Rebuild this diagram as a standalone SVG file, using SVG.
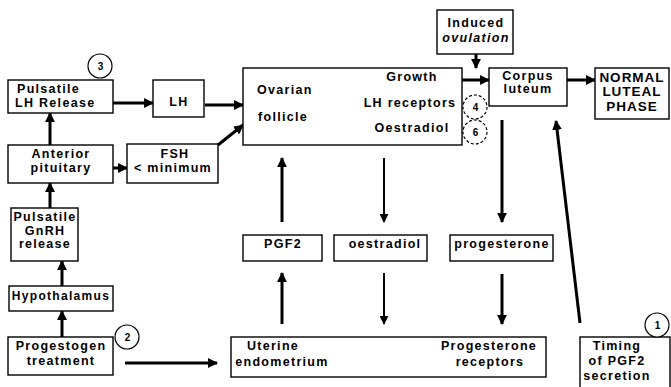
<svg xmlns="http://www.w3.org/2000/svg" width="671" height="387" viewBox="0 0 671 387">
<style>
.box{fill:#fff;stroke:#000;stroke-width:1.4}
.t{font-family:"Liberation Sans",Arial,sans-serif;font-weight:bold;font-size:12.5px;letter-spacing:1.3px;fill:#000}
.c{text-anchor:middle}
.big{font-size:13.5px;letter-spacing:1px}
.num{font-size:10px;letter-spacing:0}
.ln{stroke:#000;stroke-width:3;fill:none}
.ln2{stroke:#000;stroke-width:2;fill:none}
.circ{fill:#fff;stroke:#000;stroke-width:1.2}
.dash{stroke-dasharray:3 2}
</style>
<defs>
<marker id="ah" viewBox="0 0 10 10" refX="9" refY="5" markerWidth="3.3" markerHeight="3.3" orient="auto" markerUnits="strokeWidth">
<path d="M0,0 L10,5 L0,10 z" fill="#000"/>
</marker>
<marker id="ah2" viewBox="0 0 10 10" refX="9" refY="5" markerWidth="4.5" markerHeight="4.5" orient="auto" markerUnits="strokeWidth">
<path d="M0,0 L10,5 L0,10 z" fill="#000"/>
</marker>
</defs>
<g id="connectors">
<line class="ln" x1="113" y1="103" x2="153" y2="103" marker-end="url(#ah)"/>
<line class="ln" x1="205" y1="105" x2="243" y2="105" marker-end="url(#ah)"/>
<line class="ln" x1="113" y1="168" x2="127" y2="168" marker-end="url(#ah)"/>
<line class="ln" x1="218" y1="145" x2="243" y2="125" marker-end="url(#ah)"/>
<line class="ln" x1="50" y1="145" x2="50" y2="113" marker-end="url(#ah)"/>
<line class="ln" x1="50" y1="208" x2="50" y2="183" marker-end="url(#ah)"/>
<line class="ln" x1="62" y1="286" x2="62" y2="261" marker-end="url(#ah)"/>
<line class="ln" x1="62" y1="337" x2="62" y2="311" marker-end="url(#ah)"/>
<line class="ln" x1="125" y1="363" x2="217" y2="363" marker-end="url(#ah)"/>
<line class="ln" x1="307" y1="107" x2="346" y2="107" marker-end="url(#ah)"/>
<line class="ln" x1="476" y1="54" x2="476" y2="68" marker-end="url(#ah)"/>
<line class="ln" x1="462" y1="80" x2="489" y2="80" marker-end="url(#ah)"/>
<line class="ln" x1="567" y1="80" x2="595" y2="80" marker-end="url(#ah)"/>
<line class="ln" x1="282" y1="222" x2="282" y2="158" marker-end="url(#ah)"/>
<line class="ln2" x1="384" y1="158" x2="384" y2="222" marker-end="url(#ah2)"/>
<line class="ln" x1="282" y1="324" x2="282" y2="273" marker-end="url(#ah)"/>
<line class="ln2" x1="384" y1="273" x2="384" y2="324" marker-end="url(#ah2)"/>
<line class="ln" x1="502" y1="120" x2="502" y2="222" marker-end="url(#ah)"/>
<line class="ln" x1="502" y1="274" x2="502" y2="324" marker-end="url(#ah)"/>
<line class="ln" x1="580" y1="323" x2="556" y2="121" marker-end="url(#ah)"/>
<line class="ln" x1="346" y1="363" x2="437" y2="363" marker-end="url(#ah)"/>
</g>
<g id="n-pulsatile-lh">
<rect class="box" x="8" y="80" width="105" height="33"/>
<text class="t" x="17" y="93">Pulsatile</text>
<text class="t" x="15" y="107">LH Release</text>
</g>
<g id="c3">
<circle class="circ" cx="100" cy="66" r="12"/>
<text class="t c num" x="100.5" y="70">3</text>
</g>
<g id="n-lh">
<rect class="box" x="153" y="80" width="51" height="37"/>
<text class="t c" x="179" y="106">LH</text>
</g>
<g id="n-anterior">
<rect class="box" x="8" y="145" width="105" height="38"/>
<text class="t c" x="61" y="158">Anterior</text>
<text class="t c" x="61" y="172">pituitary</text>
</g>
<g id="n-fsh">
<rect class="box" x="127" y="144" width="91" height="39"/>
<text class="t c" x="175" y="158">FSH</text>
<text class="t c" x="173" y="172">&lt; minimum</text>
</g>
<g id="n-gnrh">
<rect class="box" x="11" y="208" width="67" height="53"/>
<text class="t c" x="45" y="221">Pulsatile</text>
<text class="t c" x="45" y="235">GnRH</text>
<text class="t c" x="45" y="248">release</text>
</g>
<g id="n-hypothalamus">
<rect class="box" x="9" y="286" width="104" height="25"/>
<text class="t c" x="61" y="300" style="font-size:12px;letter-spacing:1.3px">Hypothalamus</text>
</g>
<g id="n-progestogen">
<rect class="box" x="8" y="337" width="105" height="38"/>
<text class="t c" x="61" y="350">Progestogen</text>
<text class="t c" x="61" y="365">treatment</text>
</g>
<g id="c2">
<circle class="circ" cx="127" cy="337" r="12"/>
<text class="t c num" x="127.5" y="341">2</text>
</g>
<g id="n-ovarian">
<rect class="box" x="243" y="68" width="219" height="77"/>
<text class="t" x="257" y="94">Ovarian</text>
<text class="t" x="258" y="121">follicle</text>
<text class="t c" x="412" y="81">Growth</text>
<text class="t c" x="410" y="107">LH receptors</text>
<text class="t c" x="412" y="132">Oestradiol</text>
</g>
<g id="c4">
<circle class="circ dash" cx="475" cy="107" r="12"/>
<text class="t c num" x="475.5" y="111">4</text>
</g>
<g id="c6">
<circle class="circ dash" cx="475" cy="132" r="12"/>
<text class="t c num" x="475.5" y="136">6</text>
</g>
<g id="n-induced">
<rect class="box" x="437" y="10" width="76" height="44"/>
<text class="t c" x="476" y="27">Induced</text>
<text class="t c" x="476" y="42" style="font-style:italic">ovulation</text>
</g>
<g id="n-corpus">
<rect class="box" x="489" y="68" width="78" height="38"/>
<text class="t c" x="528" y="80">Corpus</text>
<text class="t c" x="528" y="93">luteum</text>
</g>
<g id="n-normal">
<rect class="box" x="595" y="68" width="74" height="51"/>
<text class="t c big" x="632" y="82">NORMAL</text>
<text class="t c big" x="632" y="96">LUTEAL</text>
<text class="t c big" x="632" y="111">PHASE</text>
</g>
<g id="n-pgf2">
<rect class="box" x="243" y="235" width="79" height="26"/>
<text class="t c" x="283" y="248">PGF2</text>
</g>
<g id="n-oestradiol">
<rect class="box" x="334" y="235" width="93" height="26"/>
<text class="t c" x="385" y="248">oestradiol</text>
</g>
<g id="n-progesterone">
<rect class="box" x="450" y="235" width="103" height="26"/>
<text class="t c" x="502" y="248">progesterone</text>
</g>
<g id="n-uterine">
<rect class="box" x="231" y="337" width="315" height="40"/>
<text class="t c" x="273" y="350">Uterine</text>
<text class="t c" x="282" y="366">endometrium</text>
<text class="t c" x="489" y="350">Progesterone</text>
<text class="t c" x="490" y="366">receptors</text>
</g>
<g id="n-timing">
<rect class="box" x="580" y="337" width="90" height="52"/>
<text class="t c" x="617" y="350">Timing</text>
<text class="t c" x="617" y="365">of PGF2</text>
<text class="t c" x="617" y="380">secretion</text>
</g>
<g id="c1">
<circle class="circ" cx="657" cy="325" r="12"/>
<text class="t c num" x="657.5" y="329">1</text>
</g>
</svg>
